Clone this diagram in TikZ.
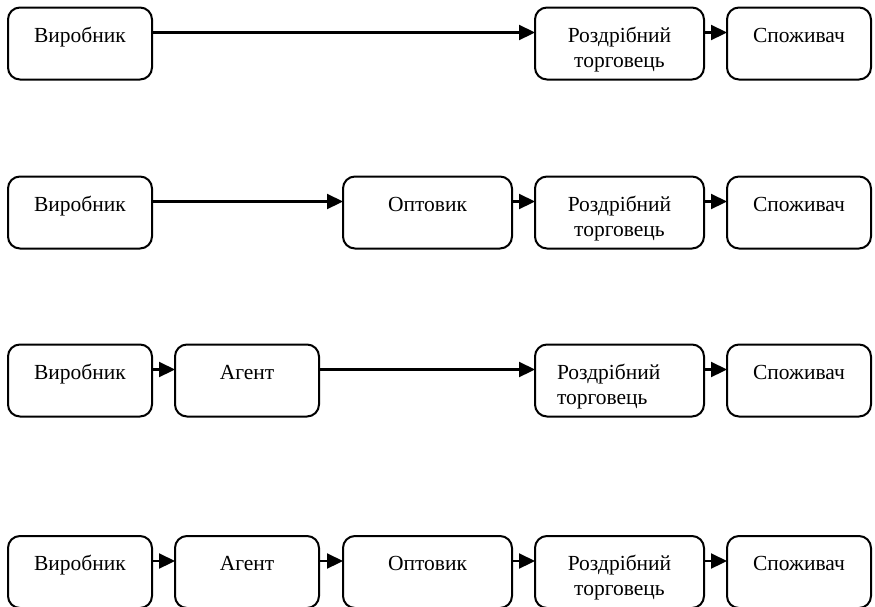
\documentclass[tikz,border=0pt]{standalone}
\usepackage{fontspec}
\setmainfont{Liberation Serif}
\usetikzlibrary{arrows.meta}

\begin{document}
\begin{tikzpicture}[x=1pt, y=-1pt,
    stage/.style={draw, line width=2pt, rounded corners=12pt, anchor=north west, outer sep=0pt,
        minimum height=72pt, inner xsep=4pt, inner ysep=18.5pt, text height=16pt, text depth=19pt,
        align=center, font=\fontsize{21.5}{25}\selectfont},
    narrow/.style={stage, minimum width=144pt},
    wide/.style={stage, minimum width=169pt, text width=161pt},
    flow/.style={line width=2.2pt, -{Triangle[length=16pt, width=15pt]}}]
    \useasboundingbox (0,0) rectangle (875,606);

    \node[narrow] (mfrA) at (8,7.5) {Виробник};
    \node[wide] (retA) at (535,7.5) {Роздрібний\\торговець};
    \node[narrow] (conA) at (727,7.5) {Споживач};

    \node[narrow] (mfrB) at (8,176.5) {Виробник};
    \node[wide] (whoB) at (343,176.5) {Оптовик};
    \node[wide] (retB) at (535,176.5) {Роздрібний\\торговець};
    \node[narrow] (conB) at (727,176.5) {Споживач};

    \node[narrow] (mfrC) at (8,344.5) {Виробник};
    \node[narrow] (agtC) at (175,344.5) {Агент};
    \node[wide, align=left, text width=125pt, inner xsep=22pt] (retC) at (535,344.5) {Роздрібний\\торговець};
    \node[narrow] (conC) at (727,344.5) {Споживач};

    \node[narrow] (mfrD) at (8,536) {Виробник};
    \node[narrow] (agtD) at (175,536) {Агент};
    \node[wide] (whoD) at (343,536) {Оптовик};
    \node[wide] (retD) at (535,536) {Роздрібний\\торговець};
    \node[narrow] (conD) at (727,536) {Споживач};

    \foreach \a/\b in {mfrA/retA, retA/conA, mfrB/whoB, whoB/retB, retB/conB,
        mfrC/agtC, agtC/retC, retC/conC, mfrD/agtD, agtD/whoD, whoD/retD, retD/conD}
        \draw[flow] ([yshift=-25pt]\a.north east) -- ([yshift=-25pt]\b.north west);
\end{tikzpicture}
\end{document}
